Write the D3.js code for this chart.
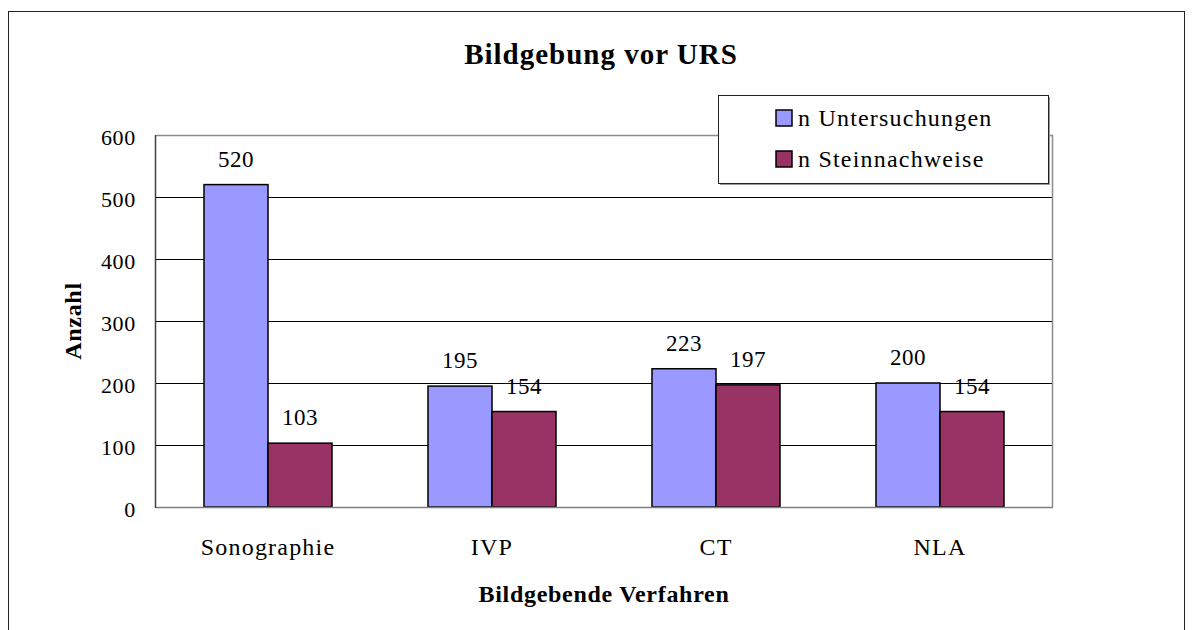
<!DOCTYPE html>
<html lang="de">
<head>
<meta charset="UTF-8">
<title>Bildgebung vor URS</title>
<script src="https://d3js.org/d3.v7.min.js"></script>
<style>
  body { margin: 0; background: #fff; }
  text { font-family: "Liberation Serif", "Times New Roman", serif; fill: #000; }
</style>
</head>
<body>
<svg width="1192" height="630"></svg>
<script>
  let categories = ['Sonographie', 'IVP', 'CT', 'NLA'];
  let seriesNames = ['n Untersuchungen', 'n Steinnachweise'];
  let untersuchungen = [520, 195, 223, 200];
  let steinnachweise = [103, 154, 197, 154];
  let yTicks = [0, 100, 200, 300, 400, 500, 600];
  let colors = ['#9999FF', '#993366'];

  let svg = d3.select('svg');

  // outer chart frame (bottom edge runs off the picture)
  svg.append('rect')
    .attr('x', 8.5).attr('y', 11.5)
    .attr('width', 1176).attr('height', 640)
    .attr('fill', '#fff').attr('stroke', '#222').attr('stroke-width', 1);

  let pLeft = 156, pRight = 1052, pTop = 135, pBottom = 507;

  let y = d3.scaleLinear().domain([0, 600]).range([pBottom, pTop]);
  let x0 = d3.scaleBand().domain(categories).range([pLeft, pRight])
    .paddingInner(96 / 224).paddingOuter(48 / 224);
  let x1 = d3.scaleBand().domain(seriesNames).range([0, x0.bandwidth()]);

  // gridlines
  svg.append('g')
    .selectAll('line')
    .data(yTicks.filter(d => d > 0 && d < 600))
    .join('line')
    .attr('x1', pLeft).attr('x2', pRight)
    .attr('y1', d => Math.round(y(d)) + 0.5).attr('y2', d => Math.round(y(d)) + 0.5)
    .attr('stroke', '#000').attr('stroke-width', 1);

  // plot area border (top / right gray)
  svg.append('path')
    .attr('d', `M${pLeft},${pTop + 0.5}H${pRight + 0.5}V${pBottom}`)
    .attr('fill', 'none').attr('stroke', '#8c8c8c').attr('stroke-width', 1.5);

  let rows = categories.map((c, i) => ({ cat: c, values: [untersuchungen[i], steinnachweise[i]] }));

  let groups = svg.append('g')
    .selectAll('g')
    .data(rows)
    .join('g')
    .attr('transform', d => `translate(${x0(d.cat)},0)`);

  groups.selectAll('rect')
    .data(d => d.values.map((v, i) => ({ key: seriesNames[i], value: v, i: i })))
    .join('rect')
    .attr('x', d => x1(d.key))
    .attr('y', d => y(d.value))
    .attr('width', x1.bandwidth())
    .attr('height', d => y(0) - y(d.value))
    .attr('fill', d => colors[d.i])
    .attr('stroke', '#000').attr('stroke-width', 1.5);

  groups.selectAll('text')
    .data(d => d.values.map((v, i) => ({ key: seriesNames[i], value: v })))
    .join('text')
    .attr('x', d => x1(d.key) + x1.bandwidth() / 2)
    .attr('y', d => y(d.value) - 18)
    .attr('text-anchor', 'middle')
    .style('font-size', '23px')
    .style('letter-spacing', '0.5px')
    .text(d => d.value);

  // axes
  let yAxis = svg.append('g')
    .attr('transform', `translate(${pLeft},0)`)
    .call(d3.axisLeft(y).tickValues(yTicks).tickSize(0).tickPadding(20));
  yAxis.select('.domain').remove();
  yAxis.selectAll('text')
    .attr('dy', '9.5')
    .style('font-size', '22px')
    .style('letter-spacing', '0.7px')
    .style('font-family', '"Liberation Serif", serif');

  let xAxis = svg.append('g')
    .attr('transform', `translate(0,${pBottom})`)
    .call(d3.axisBottom(x0).tickSize(0).tickPadding(0));
  xAxis.select('.domain').remove();
  xAxis.selectAll('text')
    .attr('y', 48).attr('dy', 0)
    .style('font-size', '24px')
    .style('letter-spacing', '1.2px')
    .style('font-family', '"Liberation Serif", serif');

  svg.append('line')
    .attr('x1', pLeft).attr('x2', pRight + 1)
    .attr('y1', pBottom + 0.5).attr('y2', pBottom + 0.5)
    .attr('stroke', '#808080').attr('stroke-width', 1.5);
  svg.append('line')
    .attr('x1', pLeft - 0.5).attr('x2', pLeft - 0.5)
    .attr('y1', pTop).attr('y2', pBottom + 1)
    .attr('stroke', '#404040').attr('stroke-width', 1.5);

  // titles
  svg.append('text')
    .attr('x', 601).attr('y', 64)
    .attr('text-anchor', 'middle')
    .style('font-size', '29px').style('font-weight', 'bold')
    .style('letter-spacing', '1px')
    .text('Bildgebung vor URS');

  svg.append('text')
    .attr('x', (pLeft + pRight) / 2).attr('y', 602)
    .attr('text-anchor', 'middle')
    .style('font-size', '24px').style('font-weight', 'bold')
    .style('letter-spacing', '0.7px')
    .text('Bildgebende Verfahren');

  svg.append('text')
    .attr('transform', `translate(81,${(pTop + pBottom) / 2}) rotate(-90)`)
    .attr('text-anchor', 'middle')
    .style('font-size', '24px').style('font-weight', 'bold')
    .style('letter-spacing', '0.7px')
    .text('Anzahl');

  // legend
  let legend = svg.append('g');
  legend.append('rect')
    .attr('x', 720).attr('y', 97).attr('width', 330).attr('height', 88)
    .attr('fill', '#999');
  legend.append('rect')
    .attr('x', 718.5).attr('y', 95.5).attr('width', 330).attr('height', 88)
    .attr('fill', '#fff').attr('stroke', '#222').attr('stroke-width', 1);

  let items = legend.selectAll('g.item')
    .data(seriesNames)
    .join('g')
    .attr('class', 'item')
    .attr('transform', (d, i) => `translate(776,${110 + i * 41})`);
  items.append('rect')
    .attr('width', 16).attr('height', 16)
    .attr('fill', (d, i) => colors[i])
    .attr('stroke', '#000').attr('stroke-width', 1.5);
  items.append('text')
    .attr('x', 22).attr('y', 16)
    .style('font-size', '24px')
    .style('letter-spacing', '1.2px')
    .text(d => d);
</script>
</body>
</html>
